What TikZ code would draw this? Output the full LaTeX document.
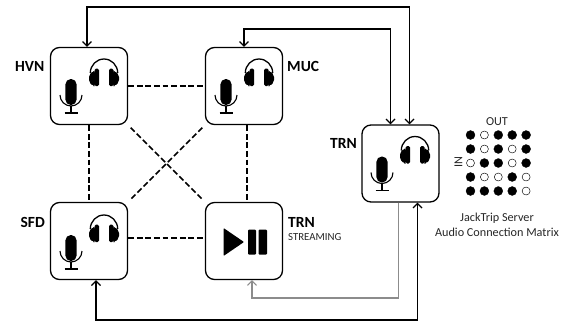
\documentclass[tikz,border=0pt]{standalone}
\usepackage{fontspec}
\setmainfont{Carlito}
\usetikzlibrary{arrows.meta,calc}
\tikzset{
  x=1pt,y=-1pt,
  devbox/.style={draw=black,line width=1.3pt,rounded corners=9pt,minimum size=77pt,inner sep=0pt,fill=white},
  dashlink/.style={line width=1.3pt,dash pattern=on 5.8pt off 2.8pt},
  diaglink/.style={dashlink,line width=1.45pt,shorten <=3.5pt,shorten >=3.5pt},
  link/.style={line width=1.3pt,{Straight Barb[length=4.5pt,width=9pt,line width=1.2pt]}-{Straight Barb[length=4.5pt,width=9pt,line width=1.2pt]}},
  feed/.style={line width=1.2pt,draw=black!45,-{Straight Barb[length=4.5pt,width=9pt,line width=1.1pt]}},
  boxname/.style={font=\bfseries\fontsize{15.5}{17}\selectfont,inner sep=0pt},
  smalltext/.style={font=\fontsize{12.2}{14}\selectfont,inner sep=0pt,text=black!85},
  dotfull/.style={circle,fill=black,draw=black,line width=.3pt,minimum size=9pt,inner sep=0pt},
  dotopen/.style={circle,fill=white,draw=black,line width=.45pt,minimum size=8pt,inner sep=0pt},
  pics/mic/.style={code={
    \fill[rounded corners=5.4pt] (-5.6,0) rectangle (5.6,26);
    \draw[line width=1.1pt] (-11,16) arc[start angle=180,end angle=0,x radius=11,y radius=11];
    \draw[line width=1.1pt] (0,27) -- (0,34) (-6.5,34) -- (6.5,34);
  }},
  pics/phones/.style={code={
    \draw[line width=1.3pt] (-13.7,15) arc[start angle=180,end angle=360,x radius=13.7,y radius=14];
    \fill[rounded corners=1.5pt] (-9.5,10.5) -- (-5,10.5) -- (-5,28) -- (-9.5,28) -- cycle;
    \fill[rounded corners=1.5pt] (9.5,10.5) -- (5,10.5) -- (5,28) -- (9.5,28) -- cycle;
    \fill[rounded corners=2pt] (-9,13) -- (-11,13) -- (-15,17) -- (-15,24) -- (-11,28) -- (-9,28) -- cycle;
    \fill[rounded corners=2pt] (9,13) -- (11,13) -- (15,17) -- (15,24) -- (11,28) -- (9,28) -- cycle;
  }},
  pics/station/.style={code={
    \pic at (-18,31) {mic};
    \pic at (15,10) {phones};
  }}
}
\begin{document}
\begin{tikzpicture}
\useasboundingbox (0,0) rectangle (564,322);
\node[devbox] (hvn) at (89,86) {};
\node[devbox] (muc) at (244,86) {};
\node[devbox] (sfd) at (89,241) {};
\node[devbox] (str) at (244,241) {};
\node[devbox] (trn) at (400.5,163.5) {};
% station icons
\pic at (51+38,48) {station};
\pic at (206+38,48) {station};
\pic at (51+38,204) {station};
\pic at (362+38,125.5) {station};
% play / pause
\fill[rounded corners=.8pt] (223.5,228) -- (244,242) -- (223.5,256) -- cycle;
\fill[rounded corners=1pt] (248,229.5) rectangle (256,254.5);
\fill[rounded corners=1pt] (258.5,229.5) rectangle (267,254.5);
% dashed mesh
\draw[dashlink] (hvn.east) -- (muc.west);
\draw[dashlink] ([yshift=3pt]sfd.east) -- ([yshift=3pt]str.west);
\draw[dashlink] (hvn.south) -- (sfd.north);
\draw[dashlink] ([xshift=3pt]muc.south) -- ([xshift=3pt]str.north);
\draw[diaglink] (hvn.south east) -- (str.north west);
\draw[diaglink] (muc.south west) -- (sfd.north east);
% server links
\coordinate (topA) at (87,7);
\coordinate (topB) at (244,29);
\coordinate (botA) at (96,320);
\coordinate (botB) at (252,298);
\draw[link] ([xshift=-2pt]hvn.north) -- (topA) -| ([xshift=9pt]trn.north);
\draw[link] (muc.north) -- (topB) -| ([xshift=-10pt]trn.north);
\draw[link] ([xshift=7pt]sfd.south) -- (botA) -| ([xshift=17pt]trn.south);
\draw[feed] ([xshift=-2pt]trn.south) |- (botB) -- ([xshift=8pt]str.south);
% labels
\node[boxname,anchor=east] (lhvn) at (44.5,66) {HVN};
\node[boxname,anchor=west] (lmuc) at (287,66) {MUC};
\node[boxname,anchor=east] (lsfd) at (45,222) {SFD};
\node[boxname,anchor=west] (lstr) at (288,222) {TRN};
\node[font=\fontsize{10.8}{12}\selectfont,text=black!85,inner sep=0pt,anchor=west] (lstream) at (288,237.5) {STREAMING};
\node[boxname,anchor=east] (ltrn) at (357,143) {TRN};
% matrix
\foreach \r/\yy/\row in {1/135/{1,0,1,1,1},2/149/{1,0,1,0,1},3/163/{0,1,1,0,1},4/177/{1,0,0,1,0},5/191/{1,1,1,1,0}}{
  \foreach \v [count=\c] in \row {
    \pgfmathsetmacro{\xx}{470.5+(\c-1)*13.9}
    \ifnum\v=1 \node[dotfull] (m\r\c) at (\xx,\yy) {};
    \else \node[dotopen] (m\r\c) at (\xx,\yy) {};\fi
  }
}
\node[smalltext] (lout) at (497,122) {OUT};
\node[smalltext,rotate=90] (lin) at (458.5,162.5) {IN};
\node[smalltext] (cap1) at (497,218.5) {JackTrip Server};
\node[smalltext] (cap2) at (497,232.5) {Audio Connection Matrix};
\end{tikzpicture}
\end{document}
